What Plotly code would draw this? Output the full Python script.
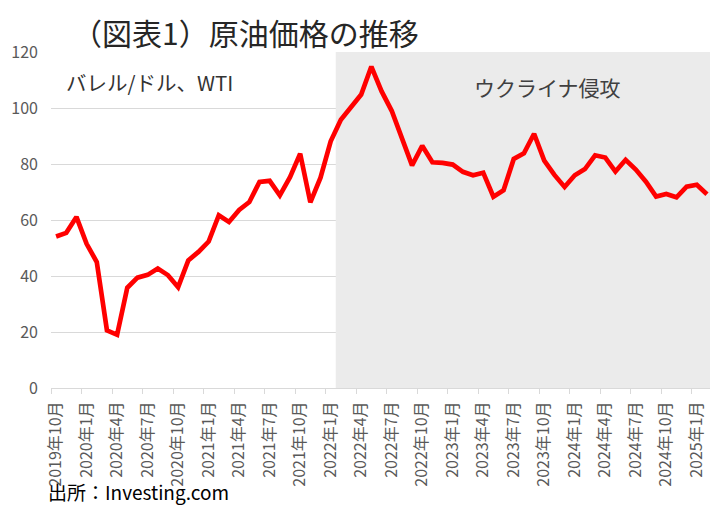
import plotly.graph_objects as go

# ---- data ----
years_months = [(2019, m) for m in (10, 11, 12)] + \
    [(y, m) for y in (2020, 2021, 2022, 2023, 2024) for m in range(1, 13)] + \
    [(2025, 1), (2025, 2)]
months = [f"{y}年{m}月" for y, m in years_months]

wti = [54.1, 55.4, 61.1,
       51.5, 45.0, 20.6, 19.0, 35.8, 39.4, 40.4, 42.7, 40.3, 36.0, 45.6, 48.6,
       52.3, 61.7, 59.3, 63.6, 66.4, 73.6, 74.0, 68.8, 75.3, 83.7, 66.3, 75.1,
       88.1, 95.8, 100.5, 104.8, 114.8, 106.0, 99.0, 89.7, 79.5, 86.5, 80.6, 80.4,
       79.8, 77.2, 76.0, 76.9, 68.3, 70.6, 81.8, 83.8, 90.8, 81.2, 76.1, 71.8,
       76.0, 78.2, 83.1, 82.3, 77.3, 81.5, 78.0, 73.7, 68.4, 69.3, 68.1, 71.9,
       72.6, 69.2]

tick_labels = ["2019年10月", "2020年1月", "2020年4月", "2020年7月", "2020年10月",
               "2021年1月", "2021年4月", "2021年7月", "2021年10月",
               "2022年1月", "2022年4月", "2022年7月", "2022年10月",
               "2023年1月", "2023年4月", "2023年7月", "2023年10月",
               "2024年1月", "2024年4月", "2024年7月", "2024年10月", "2025年1月"]
y_ticks = [0, 20, 40, 60, 80, 100, 120]
invasion_start = "2022年2月"

title_text = "（図表1）原油価格の推移"
unit_text = "バレル/ドル、WTI"
shade_text = "ウクライナ侵攻"
source_text = "出所：Investing.com"

FONT = "Noto Sans CJK JP, Noto Sans, sans-serif"
GRID = "#D9D9D9"

idx = list(range(len(months)))
tick_pos = [months.index(t) for t in tick_labels]
boundary_pos = [p - 0.5 for p in tick_pos]
shade_x0 = months.index(invasion_start) - 0.5
shade_x1 = len(months) - 0.5

fig = go.Figure()
fig.add_trace(go.Scatter(x=idx, y=wti, mode="lines",
                         line=dict(color="#FF0000", width=4.7),
                         hoverinfo="skip", showlegend=False))
# helper trace for the tick-mark axis
fig.add_trace(go.Scatter(x=idx, y=wti, mode="markers", xaxis="x2",
                         marker=dict(opacity=0), hoverinfo="skip", showlegend=False))

fig.add_shape(type="rect", xref="x", yref="y", x0=shade_x0, x1=shade_x1,
              y0=y_ticks[0], y1=y_ticks[-1], fillcolor="#EBEBEB",
              line=dict(width=0), layer="between")

px_per_month = 10.17
plot_w = 710 - 51
xr = [-0.5, -0.5 + plot_w / px_per_month]

fig.update_layout(
    width=710, height=505,
    margin=dict(l=51, r=0, t=52, b=117),
    paper_bgcolor="white", plot_bgcolor="white",
    font=dict(family=FONT, color="#595959", size=16),
    xaxis=dict(range=xr, tickmode="array", tickvals=tick_pos, ticktext=tick_labels,
               tickangle=-90, ticks="", showgrid=False, zeroline=False,
               showline=True, linecolor=GRID, linewidth=1,
               ticklabelstandoff=6,
               tickfont=dict(size=16, color="#595959", family=FONT)),
    xaxis2=dict(range=xr, overlaying="x", anchor="y", side="bottom",
                tickmode="array", tickvals=boundary_pos, ticks="outside",
                ticklen=5, tickcolor=GRID, tickwidth=1, showticklabels=False,
                showgrid=False, zeroline=False, showline=False),
    yaxis=dict(range=[y_ticks[0], y_ticks[-1]], tickmode="array", tickvals=y_ticks,
               showgrid=True, gridcolor=GRID, gridwidth=1, zeroline=False,
               showline=False, ticks="", ticklabelstandoff=12,
               tickfont=dict(size=16, color="#595959", family=FONT)),
    annotations=[
        dict(text=title_text, xref="paper", yref="paper", x=-0.0, y=1.0,
             xshift=19, yshift=20, xanchor="left", yanchor="middle", showarrow=False,
             font=dict(size=30, color="#262626", family=FONT)),
        dict(text=unit_text, xref="paper", yref="y", x=0.02, y=109.3,
             xanchor="left", yanchor="middle", showarrow=False,
             font=dict(size=20.5, color="#333333", family=FONT)),
        dict(text=shade_text, xref="paper", yref="y", x=0.753, y=107.5,
             xanchor="center", yanchor="middle", showarrow=False,
             font=dict(size=21, color="#404040", family=FONT)),
        dict(text=source_text, xref="paper", yref="paper", x=0, y=0,
             xshift=-5, yshift=-103, xanchor="left", yanchor="middle", showarrow=False,
             font=dict(size=19, color="#000000", family=FONT)),
    ],
)

fig.write_html("out.html", post_script="document.body.style.margin='0';",
               config={"displayModeBar": False})
